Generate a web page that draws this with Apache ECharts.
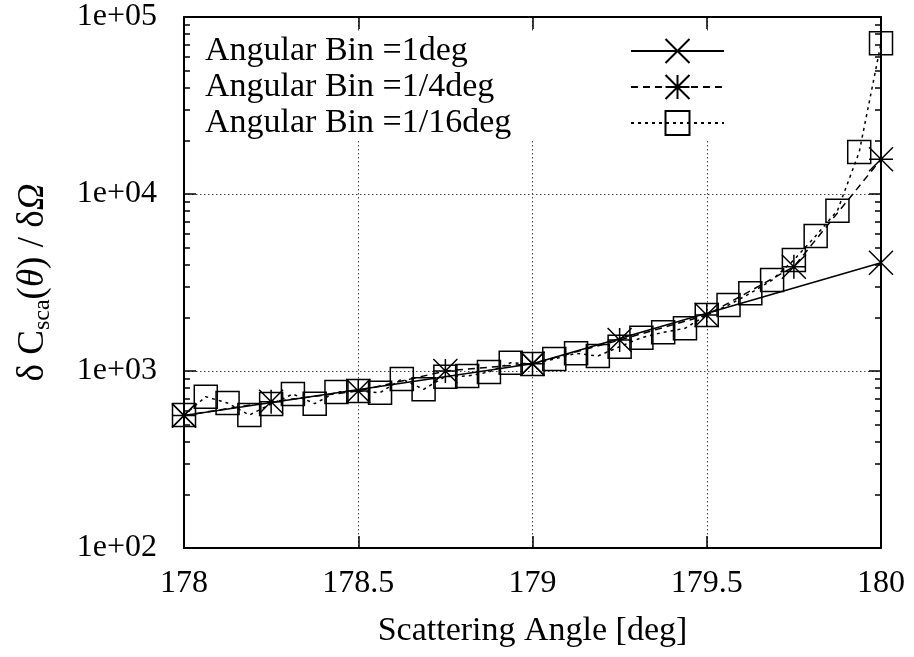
<!DOCTYPE html>
<html>
<head>
<meta charset="utf-8">
<script src="https://cdn.jsdelivr.net/npm/echarts@6/dist/echarts.min.js"></script>
<style>html,body{margin:0;padding:0;background:#fff}#c{width:914px;height:657px}</style>
</head>
<body>
<div id="c"></div>
<script>
const xTicks = [178, 178.5, 179, 179.5, 180];
const yTicks = [1e2, 1e3, 1e4, 1e5];
const yMinorTicks = [200, 300, 400, 500, 600, 700, 800, 900,
  2000, 3000, 4000, 5000, 6000, 7000, 8000, 9000,
  20000, 30000, 40000, 50000, 60000, 70000, 80000, 90000];
const seriesNames = ['Angular Bin =1deg', 'Angular Bin =1/4deg', 'Angular Bin =1/16deg'];

const anglesBin1 = [178, 179, 180];
const valuesBin1 = [560, 1100, 4090];

const anglesBin4 = [178, 178.25, 178.5, 178.75, 179, 179.25, 179.5, 179.75, 180];
const valuesBin4 = [560, 671, 771, 1000, 1100, 1496, 2071, 3882, 15700];

const anglesBin16 = [178, 178.0625, 178.125, 178.1875, 178.25, 178.3125, 178.375, 178.4375,
  178.5, 178.5625, 178.625, 178.6875, 178.75, 178.8125, 178.875, 178.9375,
  179, 179.0625, 179.125, 179.1875, 179.25, 179.3125, 179.375, 179.4375,
  179.5, 179.5625, 179.625, 179.6875, 179.75, 179.8125, 179.875, 179.9375, 180];
const valuesBin16 = [564, 716, 659, 564, 651, 741, 654, 761,
  771, 754, 901, 788, 929, 937, 987, 1114,
  1095, 1169, 1259, 1215, 1372, 1542, 1655, 1743,
  2071, 2359, 2748, 3266, 4237, 5797, 8053, 17270, 71000];

const FONT = "'Liberation Serif', 'Times New Roman', serif";
const pair = (xs, ys) => xs.map((x, i) => [x, ys[i]]);

const crossSym = 'path://M0,0L10,10M10,0L0,10';
const starSym = 'path://M0,0L10,10M10,0L0,10M5,0L5,10M0,5L10,5';

const chart = echarts.init(document.getElementById('c'), null, {renderer: 'canvas'});
const gridStyle = {show: true, lineStyle: {color: '#444', width: 1, type: [1.5, 2.5]}};
const axisLine = {show: true, onZero: false, lineStyle: {color: '#000', width: 2}};
const majorTick = {show: true, inside: true, length: 12, lineStyle: {color: '#000', width: 1.5}};
const minorTickAxis = (pos) => ({
  type: 'log', logBase: 10, min: 100, max: 100000, position: pos,
  axisLine: {show: false},
  axisTick: {show: true, inside: true, length: 6, customValues: yMinorTicks,
    lineStyle: {color: '#000', width: 1.5}},
  axisLabel: {show: false}, splitLine: {show: false}
});

chart.setOption({
  backgroundColor: '#fff',
  animation: false,
  grid: {left: 184, right: 33, top: 17, bottom: 109, containLabel: false},
  legend: {
    orient: 'vertical', left: 190, top: 33, align: 'right',
    padding: [0, 6, 0, 15], itemGap: 0, itemWidth: 93, itemHeight: 30,
    backgroundColor: '#fff', selectedMode: false,
    formatter: name => '{a|' + name + '}',
    textStyle: {fontFamily: FONT, fontSize: 34, color: '#000', lineHeight: 36,
      rich: {a: {fontFamily: FONT, fontSize: 34, color: '#000', width: 421, align: 'left', lineHeight: 36}}},
    data: seriesNames
  },
  xAxis: [{
    type: 'value', min: 178, max: 180, interval: 0.5, position: 'bottom',
    axisLine: axisLine, axisTick: majorTick,
    axisLabel: {fontFamily: FONT, fontSize: 32, color: '#000', margin: 20, customValues: xTicks},
    splitLine: gridStyle,
    name: 'Scattering Angle [deg]', nameLocation: 'middle', nameGap: 66,
    nameTextStyle: {fontFamily: FONT, fontSize: 34, color: '#000'}
  }, {
    type: 'value', min: 178, max: 180, interval: 0.5, position: 'top',
    axisLine: axisLine, axisTick: majorTick,
    axisLabel: {show: false}, splitLine: {show: false}
  }],
  yAxis: [{
    type: 'log', logBase: 10, min: 100, max: 100000, position: 'left',
    axisLine: axisLine, axisTick: majorTick,
    axisLabel: {fontFamily: FONT, fontSize: 32, color: '#000', margin: 27, customValues: yTicks,
      formatter: v => '1e+' + String(Math.round(Math.log10(v))).padStart(2, '0')},
    splitLine: gridStyle,
    name: '{n|δ C}{s|sca}{n|(}{i|θ}{n|) / δ}{i|Ω}', nameLocation: 'middle', nameGap: 132,
    nameTextStyle: {fontFamily: FONT, fontSize: 37, color: '#000',
      rich: {
        n: {fontFamily: FONT, fontSize: 37, color: '#000'},
        i: {fontFamily: FONT, fontSize: 37, color: '#000', fontStyle: 'italic'},
        s: {fontFamily: FONT, fontSize: 24, color: '#000', verticalAlign: 'bottom', padding: [0, 0, -3, 0]}
      }}
  }, {
    type: 'log', logBase: 10, min: 100, max: 100000, position: 'right',
    axisLine: axisLine, axisTick: majorTick,
    axisLabel: {show: false}, splitLine: {show: false}
  }, minorTickAxis('left'), minorTickAxis('right')],
  series: [{
    name: seriesNames[0], type: 'line', data: pair(anglesBin1, valuesBin1),
    symbol: crossSym, symbolSize: 24, showAllSymbol: true,
    lineStyle: {color: '#000', width: 1.5, type: 'solid'},
    itemStyle: {color: 'rgba(0,0,0,0)', borderColor: '#000', borderWidth: 1.5},
    z: 3
  }, {
    name: seriesNames[1], type: 'line', data: pair(anglesBin4, valuesBin4),
    symbol: starSym, symbolSize: 24, showAllSymbol: true,
    lineStyle: {color: '#000', width: 1.5, type: [7, 5]},
    itemStyle: {color: 'rgba(0,0,0,0)', borderColor: '#000', borderWidth: 1.5},
    z: 3
  }, {
    name: seriesNames[2], type: 'line', data: pair(anglesBin16, valuesBin16),
    symbol: 'rect', symbolSize: 23, showAllSymbol: true,
    lineStyle: {color: '#000', width: 1.5, type: [3, 4]},
    itemStyle: {color: 'rgba(0,0,0,0)', borderColor: '#000', borderWidth: 1.5},
    z: 3
  }]
});
</script>
</body>
</html>
